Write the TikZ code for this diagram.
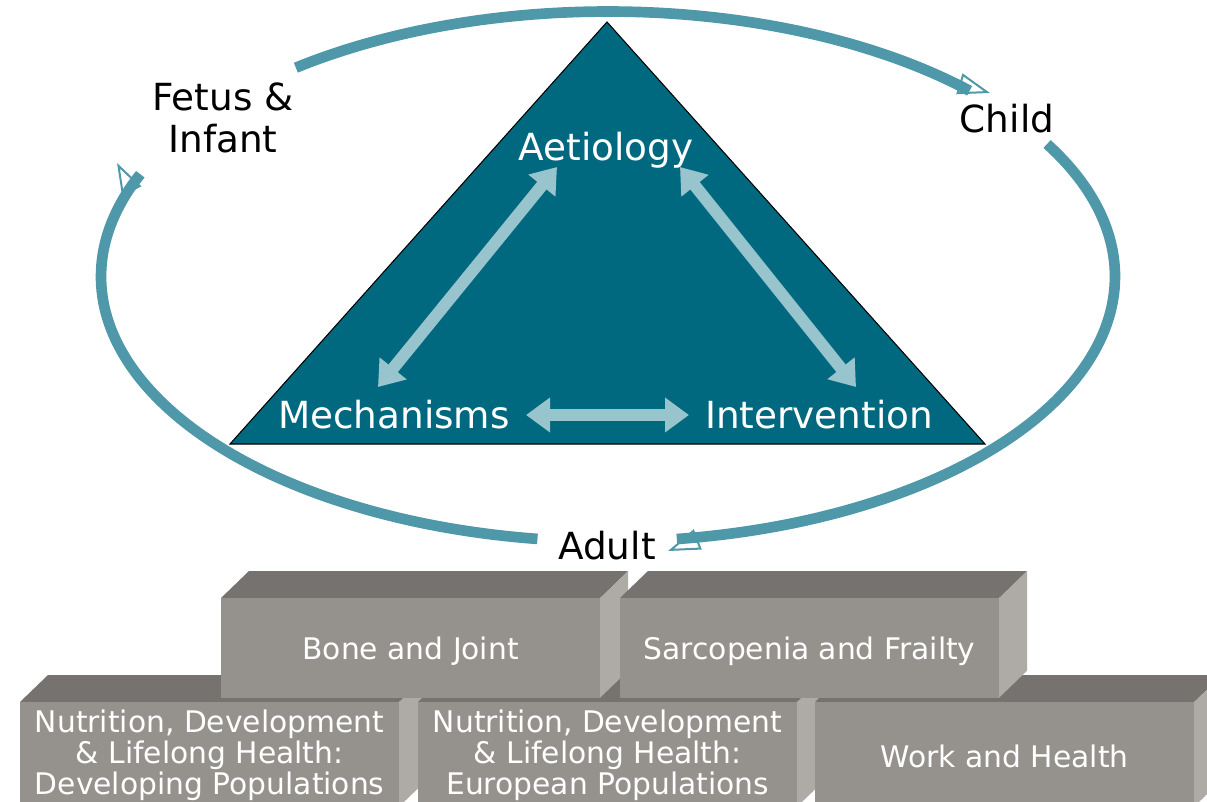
\documentclass[tikz,border=0pt]{standalone}
\usepackage{fontspec}
\setmainfont{DejaVu Sans}
\usetikzlibrary{arrows.meta}
\definecolor{ring}{HTML}{4E98A9}
\definecolor{tri}{HTML}{006980}
\definecolor{dbl}{HTML}{98C4CE}
\definecolor{bfront}{HTML}{95918D}
\definecolor{btop}{HTML}{757270}
\definecolor{bside}{HTML}{AEAAA5}
\begin{document}
\begin{tikzpicture}[x=0.75pt,y=-0.75pt,
  ringarc/.style={draw=ring, line width=8pt},
  ringtip/.style={draw=ring, line width=1.5pt,
    -{Triangle[open,length=24pt,width=16pt]}},
  dblarrow/.style={draw=dbl, line width=9pt,
    {Triangle[length=18pt,width=25pt]}-{Triangle[length=18pt,width=25pt]}},
  innerlbl/.style={text=white, font=\fontsize{28}{33}\selectfont, inner sep=0pt},
  outerlbl/.style={text=black, font=\fontsize{28}{31}\selectfont, align=center, inner sep=0pt},
  front/.style={fill=bfront, draw=none, minimum width=284pt, anchor=north west, inner sep=0pt},
  blocktext/.style={text=white, align=center, inner sep=0pt,
    font=\fontsize{22.3}{23.3}\selectfont},
  topface/.style={fill=btop, draw=none},
  sideface/.style={fill=bside, draw=none}
]
\useasboundingbox (0,0) rectangle (1207,801);
\clip (0,0) rectangle (1207,801);

% ---- ring of arcs
\draw[ringarc] plot[domain=128:44.5, samples=90] ({608+507*cos(\x)}, {276.5-265*sin(\x)});
\draw[ringarc] plot[domain=30:-82.2, samples=90] ({608+507*cos(\x)}, {276.5-265*sin(\x)});
\draw[ringarc] plot[domain=262:157.3, samples=90] ({608+507*cos(\x)}, {276.5-265*sin(\x)});
\coordinate (r1) at ({608+507*cos(47.5)}, {276.5-265*sin(47.5)});
\coordinate (t1) at (990,93);
\coordinate (r2) at ({608+507*cos(-79)}, {276.5-265*sin(-79)});
\coordinate (t2) at (668,551);
\coordinate (r3) at ({608+507*cos(160.5)}, {276.5-265*sin(160.5)});
\coordinate (t3) at (117,163);
\draw[ringtip] (r1) -- (t1);
\draw[ringtip] (r2) -- (t2);
\draw[ringtip] (r3) -- (t3);

% ---- triangle
\coordinate (apex) at (607,22);
\coordinate (bl) at (230,444);
\coordinate (br) at (985,444);
\fill[tri] (apex) -- (bl) -- (br) -- cycle;
\draw[black, line width=0.8pt, line join=miter] (apex) -- (bl) -- (br) -- cycle;

\node[innerlbl] (aet) at (606,150) {Aetiology};
\node[innerlbl] (mech) at (394,415) {Mechanisms};
\node[innerlbl] (int) at (819,415) {Intervention};

\coordinate (a1) at (557,167);
\coordinate (m1) at (378,387);
\coordinate (a2) at (680,167);
\coordinate (i1) at (856,387);
\coordinate (m2) at (526,415);
\coordinate (i2) at (689,415);
\draw[dblarrow] (a1) -- (m1);
\draw[dblarrow] (a2) -- (i1);
\draw[dblarrow] (m2) -- (i2);

% ---- outer labels
\node[outerlbl] (fetus) at (223,118) {Fetus \&\\Infant};
\node[outerlbl] (child) at (1007,119) {Child};
\node[outerlbl] (adult) at (607,546) {Adult};

% ---- blocks, bottom row
\foreach \nm/\xx/\ty/\txt in {b1/20/755.5/{Nutrition, Development\\\& Lifelong Health:\\Developing Populations},
                          b2/418/755.5/{Nutrition, Development\\\& Lifelong Health:\\European Populations},
                          b3/815/756/{Work and Health}} {
  \node[front, minimum height=78pt] (\nm) at (\xx,702) {};
  \fill[topface] (\nm.north west) -- (\nm.north east) -- ++(28,-27) -- ([shift={(28,-27)}]\nm.north west) -- cycle;
  \fill[sideface] (\nm.north east) -- (\nm.south east) -- ++(28,-27) -- ([shift={(28,-27)}]\nm.north east) -- cycle;
  \fill[bfront] (\nm.north west) rectangle (\nm.south east);
  \node[blocktext] (\nm-t) at (\nm.north |- 0,\ty) {\txt};
}
% ---- blocks, top row
\foreach \nm/\xx/\txt in {t1/221/{Bone and Joint}, t2/620/{Sarcopenia and Frailty}} {
  \node[front, minimum height=74.25pt] (\nm) at (\xx,598) {};
  \fill[topface] (\nm.north west) -- (\nm.north east) -- ++(28,-27) -- ([shift={(28,-27)}]\nm.north west) -- cycle;
  \fill[sideface] (\nm.north east) -- (\nm.south east) -- ++(28,-27) -- ([shift={(28,-27)}]\nm.north east) -- cycle;
  \fill[bfront] (\nm.north west) rectangle (\nm.south east);
  \node[blocktext] (\nm-t) at (\nm.north |- 0,651) {\txt};
}
\end{tikzpicture}
\end{document}
